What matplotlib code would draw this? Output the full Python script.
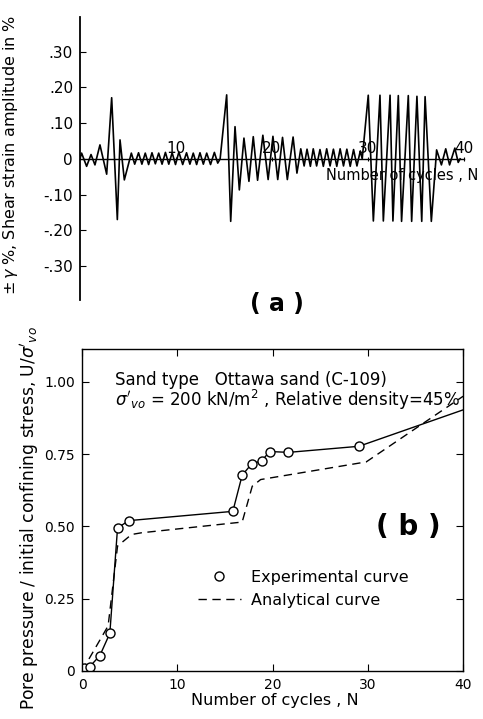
import matplotlib
matplotlib.use("Agg")
import matplotlib.pyplot as plt
from matplotlib.lines import Line2D

# (a) shear strain trace, peaks
strain_N = [0, 0.17, 0.69, 1.15, 1.56, 2.08, 2.78, 3.3, 3.89, 4.17, 4.62,
            5.35, 5.7, 6.1, 6.45, 6.8, 7.15, 7.5, 7.85, 8.2, 8.55, 8.9, 9.25,
            9.6, 9.95, 10.3, 10.7, 11.1, 11.45, 11.8, 12.15, 12.5, 12.85,
            13.2, 13.6, 14.0, 14.35, 14.6,
            15.28, 15.7, 16.15, 16.6, 17.08, 17.6, 18.05, 18.5, 19.05, 19.6,
            20.1, 20.6, 21.1, 21.6, 22.2, 22.6,
            23.0, 23.35, 23.65, 24.0, 24.3, 24.65, 25.0, 25.35, 25.7, 26.05,
            26.4, 26.75, 27.1, 27.45, 27.8, 28.15, 28.5, 28.85, 29.2, 29.4,
            30.03, 30.56, 31.25, 31.6, 32.3, 32.6, 33.16, 33.5, 34.2, 34.55,
            35.1, 35.6, 35.95, 36.6,
            37.15, 37.65, 38.1, 38.5, 39.05, 39.4, 39.6]
strain_pct = [0, .016, -.021, .012, -.017, .039, -.043, .171, -.170, .053, -.059,
              .016, -.015, .017, -.015, .016, -.016, .017, -.014, .016, -.015, .018, -.015,
              .017, -.016, .019, -.016, .017, -.015, .016, -.016, .017, -.015,
              .016, -.016, .018, -.012, 0.0,
              .179, -.175, .090, -.087, .058, -.063, .062, -.060, .066, -.058,
              .063, -.058, .060, -.058, .061, -.040,
              .028, -.020, .027, -.021, .028, -.020, .026, -.021, .028, -.020,
              .027, -.021, .028, -.020, .027, -.021, .026, -.020, .022, 0.0,
              .178, -.174, .178, -.174, .178, -.174, .177, -.175, .177, -.175,
              .175, -.175, .174, -.175,
              .025, -.017, .028, -.017, .030, -.010, 0.0]
strain_ticks = [.30, .20, .10, 0, -.10, -.20, -.30]
strain_labels = [".30", ".20", ".10", "0", "-.10", "-.20", "-.30"]
cycle_ticks_a = [10, 20, 30, 40]

# (b) pore pressure ratio
exp_N = [0.21, 0.81, 1.87, 2.92, 3.73, 4.93, 15.83, 16.81, 17.8, 18.86, 19.7, 21.67, 29.06]
exp_U = [0.01, 0.015, 0.053, 0.13, 0.495, 0.52, 0.552, 0.677, 0.716, 0.727, 0.759, 0.756, 0.777]
exp_line_N = exp_N + [40]
exp_line_U = exp_U + [0.903]
ana_N = [0, 2.74, 3.73, 5.2, 6.26, 16.81, 17.87, 18.75, 29.83, 40]
ana_U = [0, 0.156, 0.432, 0.472, 0.478, 0.515, 0.639, 0.662, 0.723, 0.95]
u_ticks = [0, 0.25, 0.50, 0.75, 1.00]
u_labels = ["0", "0.25", "0.50", "0.75", "1.00"]
cycle_ticks_b = [0, 10, 20, 30, 40]

plt.rcParams['font.family'] = ['DejaVu Sans']

fig = plt.figure(figsize=(4.83, 7.19), dpi=100)

# ---- panel (a)
ax1 = fig.add_axes([0.1656, 0.5828, 0.795, 0.3936])
ax1.plot(strain_N, strain_pct, color='black', lw=1.2)
ax1.set_xlim(0, 40)
ax1.set_ylim(-0.395, 0.397)
ax1.spines['top'].set_visible(False)
ax1.spines['right'].set_visible(False)
ax1.spines['bottom'].set_position(('data', 0))
ax1.spines['left'].set_linewidth(1.3)
ax1.spines['bottom'].set_linewidth(1.0)
ax1.set_yticks(strain_ticks)
ax1.set_yticklabels(strain_labels)
ax1.set_xticks(cycle_ticks_a)
ax1.tick_params(axis='y', direction='in', length=4, width=0.8, labelsize=11, pad=5)
ax1.tick_params(axis='x', direction='inout', length=3, width=0.8, labelsize=11, pad=-14)
ax1.set_xlabel("Number of cycles , N", fontsize=10.5)
ax1.xaxis.set_label_coords(0.84, 0.466)
ax1.set_ylabel(r"$\pm\,\gamma$ %, Shear strain amplitude in %", fontsize=11.5)
ax1.yaxis.set_label_coords(-0.157, 0.513)
fig.text(0.573, 0.577, "( a )", fontsize=17, fontweight='bold', ha='center', va='center')

# ---- panel (b)
ax2 = fig.add_axes([0.1698, 0.0668, 0.789, 0.448])
ax2.plot(ana_N, ana_U, color='black', lw=1.0, ls=(0, (6, 4)))
ax2.plot(exp_line_N, exp_line_U, color='black', lw=1.0)
ax2.plot(exp_N, exp_U, 'o', ms=6.5, mfc='white', mec='black', mew=1.0)
ax2.set_xlim(0, 40)
ax2.set_ylim(0, 1.114)
ax2.set_xticks(cycle_ticks_b)
ax2.set_yticks(u_ticks)
ax2.set_yticklabels(u_labels)
ax2.tick_params(direction='in', length=5, width=0.8, top=True, right=True, labelsize=10, pad=5)
for s in ax2.spines.values():
    s.set_linewidth(1.0)
ax2.set_xlabel("Number of cycles , N", fontsize=11.5)
ax2.xaxis.set_label_coords(0.507, -0.068)
ax2.set_ylabel(r"Pore pressure / initial confining stress, U/$\sigma'_{vo}$", fontsize=12.3)
ax2.yaxis.set_label_coords(-0.108, 0.475)

ax2.text(0.087, 0.904, "Sand type   Ottawa sand (C-109)", transform=ax2.transAxes,
         fontsize=12, ha='left', va='center')
ax2.text(0.087, 0.842, r"$\sigma'_{vo}$ = 200 kN/m$^2$ , Relative density=45%",
         transform=ax2.transAxes, fontsize=12, ha='left', va='center')
ax2.text(0.856, 0.447, "( b )", transform=ax2.transAxes, fontsize=20,
         fontweight='bold', ha='center', va='center')

handles = [Line2D([], [], ls='none', marker='o', ms=6.5, mfc='white', mec='black', mew=1.0),
           Line2D([], [], color='black', lw=1.0, ls=(0, (6, 4)))]
ax2.legend(handles, ["Experimental curve", "Analytical curve"], loc='center left',
           bbox_to_anchor=(0.283, 0.255), frameon=False, fontsize=11.5,
           handlelength=2.7, handletextpad=0.63, labelspacing=0.5, borderpad=0)

fig.savefig("out.png", dpi=100)
